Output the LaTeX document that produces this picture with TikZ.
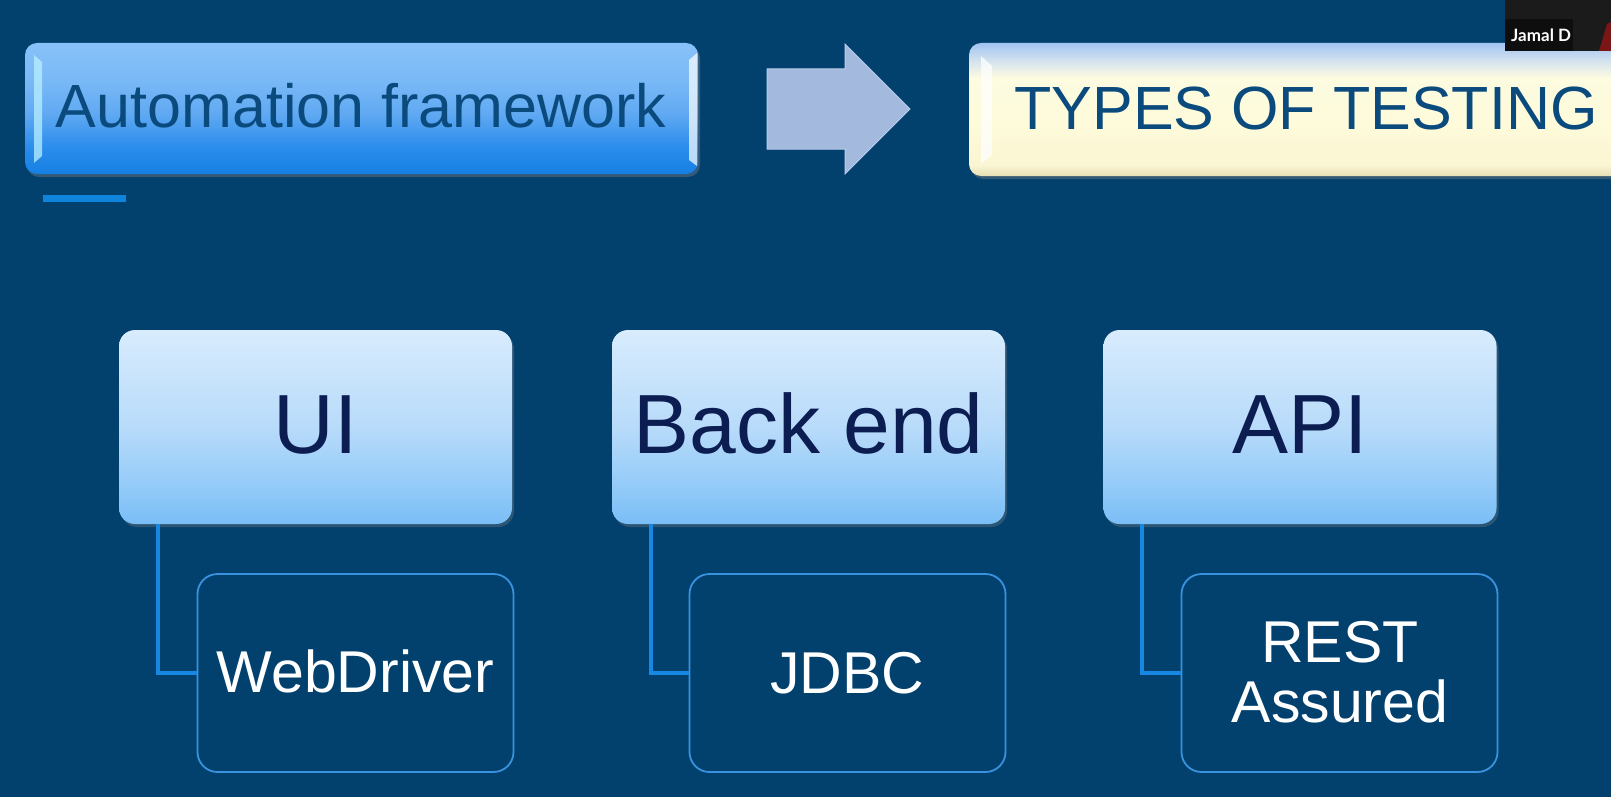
\documentclass[tikz,border=0pt]{standalone}
\usepackage{fontspec}
\setmainfont{Liberation Sans}
\newfontfamily\latofont{Lato}
\usetikzlibrary{shadows}
\definecolor{bg}{HTML}{02416E}
\definecolor{ptext}{HTML}{0C1D52}
\definecolor{toptext}{HTML}{0B4A7C}
\definecolor{childline}{HTML}{3A92DE}
\definecolor{conncol}{HTML}{1687E3}
\definecolor{arrowfill}{HTML}{A3B9DD}
\definecolor{arrowline}{HTML}{B9CCEA}
\definecolor{underl}{HTML}{0F84DC}
\definecolor{pA}{HTML}{79BDF6}
\definecolor{pB}{HTML}{8FC9F8}
\definecolor{pC}{HTML}{B8DBFA}
\definecolor{pD}{HTML}{D8ECFD}
\definecolor{aA}{HTML}{1580E2}
\definecolor{aB}{HTML}{2A8CEC}
\definecolor{aC}{HTML}{60A9F2}
\definecolor{aD}{HTML}{78B8F6}
\definecolor{aE}{HTML}{88C2F8}
\definecolor{tA}{HTML}{E6DFB5}
\definecolor{tB}{HTML}{FAF5D2}
\definecolor{tC}{HTML}{FEFBDB}
\definecolor{tD}{HTML}{FDFBE0}
\definecolor{tE}{HTML}{D6E4EE}
\definecolor{tF}{HTML}{A2C4F2}
\definecolor{bevelcyan}{HTML}{B8F0FF}
\definecolor{camdark}{HTML}{1B1B1B}
\definecolor{camred}{HTML}{7A1616}
\definecolor{camlabelbg}{HTML}{0E0E0E}
\pgfdeclareverticalshading{parentshade}{100bp}{color(0bp)=(pA); color(25bp)=(pA); color(33bp)=(pB); color(50bp)=(pC); color(75bp)=(pD); color(100bp)=(pD)}
\pgfdeclareverticalshading{autoshade}{100bp}{color(0bp)=(aA); color(25bp)=(aA); color(35bp)=(aB); color(48bp)=(aC); color(60bp)=(aD); color(75bp)=(aE); color(100bp)=(aE)}
\pgfdeclareverticalshading{typesshade}{100bp}{color(0bp)=(tA); color(25bp)=(tA); color(29bp)=(tB); color(45bp)=(tC); color(62bp)=(tD); color(68bp)=(tE); color(75bp)=(tF); color(100bp)=(tF)}
\tikzset{
  parentbox/.style={rectangle, rounded corners=16pt, shade, shading=parentshade, draw=none,
    minimum width=393pt, minimum height=194pt, inner sep=0pt,
    drop shadow={opacity=0.35, shadow xshift=2pt, shadow yshift=-3pt}},
  childbox/.style={rectangle, rounded corners=20pt, draw=childline, line width=1.8pt, fill=bg,
    minimum width=316pt, minimum height=198pt, inner sep=0pt},
  ptextstyle/.style={anchor=base, inner sep=0pt, text=ptext, font=\fontsize{84}{90}\selectfont},
  ctextstyle/.style={anchor=base, inner sep=0pt, text=white, font=\fontsize{59}{60}\selectfont},
  toptextstyle/.style={anchor=base, inner sep=0pt, text=toptext, font=\fontsize{61}{66}\selectfont},
  conn/.style={draw=conncol, line width=4pt},
  topbox/.style={rectangle, rounded corners=12pt, draw=none, inner sep=0pt,
    drop shadow={opacity=0.4, shadow xshift=2pt, shadow yshift=-3pt}}
}
\begin{document}
\begin{tikzpicture}[x=1pt,y=-1pt]
\fill[bg] (0,0) rectangle (1611,797);
\useasboundingbox (0,0) rectangle (1611,797);
\clip (0,0) rectangle (1611,797);

% top boxes
\node[topbox, shade, shading=autoshade, minimum width=673pt, minimum height=131pt] (auto) at (361.5,108.5) {};
\fill[bevelcyan, opacity=0.75] (34,55) -- (42,62) -- (42,156) -- (34,163) -- cycle;
\fill[white, opacity=0.7] (697,53) -- (689,60) -- (689,160) -- (697,166) -- cycle;
\node[toptextstyle] (autotext) at (361,128) {Automation framework};
\fill[underl] (43,195) rectangle (126,202);

\node[topbox, shade, shading=typesshade, minimum width=671pt, minimum height=133pt] (types) at (1304.5,109.5) {};
\fill[white, opacity=0.75] (981,56) -- (992,66) -- (992,155) -- (981,164) -- cycle;
\node[toptextstyle] (typestext) at (1306,129) {TYPES OF TESTING};

% arrow
\draw[fill=arrowfill, draw=arrowline, line width=1pt, line join=miter]
  (767,69) -- (845,69) -- (845,44) -- (910,109) -- (845,174) -- (845,149) -- (767,149) -- cycle;

% parent boxes
\node[parentbox] (ui) at (315.5,427) {};
\node[parentbox] (be) at (808.5,427) {};
\node[parentbox] (api) at (1300,427) {};
\node[ptextstyle] (uitext) at (315.5,453) {UI};
\node[ptextstyle] (betext) at (808.5,453) {Back end};
\node[ptextstyle] (apitext) at (1300,453) {API};

% child boxes
\node[childbox] (wd) at (355.5,673) {};
\node[childbox] (jdbc) at (847.5,673) {};
\node[childbox] (rest) at (1339.5,673) {};
\node[ctextstyle] (wdtext) at (355.5,692) {WebDriver};
\node[ctextstyle] (jdbctext) at (847.5,693) {JDBC};
\node[ctextstyle] (resttext1) at (1340,662) {REST};
\node[ctextstyle] (resttext2) at (1340,722) {Assured};

% connectors
\draw[conn] ([xshift=39pt]ui.south west) |- (wd.west);
\draw[conn] ([xshift=39pt]be.south west) |- (jdbc.west);
\draw[conn] ([xshift=39pt]api.south west) |- (rest.west);

% video overlay
\fill[camdark] (1505,0) rectangle (1611,51);
\fill[camred] (1599,51) -- (1607,24) -- (1611,22) -- (1611,51) -- cycle;
\node[fill=camlabelbg, inner sep=0pt, minimum width=68pt, minimum height=32pt] (camlabel) at (1539,35) {};
\node[anchor=base west, inner sep=0pt, text=white, font=\latofont\bfseries\fontsize{17}{18}\selectfont] (camname) at (1511,42) {Jamal D};
\end{tikzpicture}
\end{document}
